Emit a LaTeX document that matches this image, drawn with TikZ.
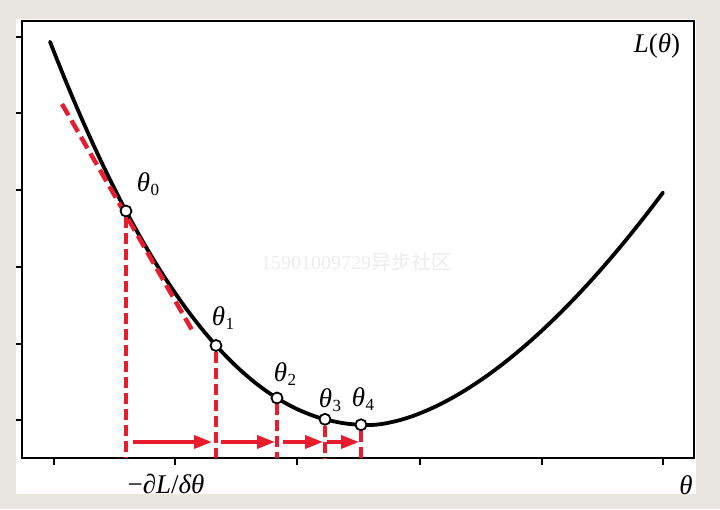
\documentclass[tikz,border=0pt]{standalone}
\usepackage{fontspec}
\setmainfont{Liberation Serif}
\newfontfamily\cjkfont{Noto Sans CJK SC}
\usetikzlibrary{arrows.meta}
\definecolor{bggrey}{RGB}{233,230,225}
\definecolor{gdred}{RGB}{233,28,45}
\newcommand{\thetalabel}[1]{\textit{θ}\kern0.5pt{\fontsize{17}{17}\selectfont\raisebox{-0.22em}{#1}}}

\begin{document}
\begin{tikzpicture}[x=1pt, y=-1pt, font=\fontsize{27}{29}\selectfont]
	\tikzstyle{every node} = [inner sep=0pt]
	\tikzstyle{point} = [circle, draw=black, fill=white, line width=1.8pt, minimum size=11pt]
	\tikzstyle{drop} = [gdred, line width=3.4pt, dash pattern=on 11pt off 5pt]
	\tikzstyle{stepline} = [gdred, line width=3.4pt, -{Triangle[length=18pt,width=13pt]}]
	% background and axes box
	\fill[bggrey] (0,0) rectangle (720,509);
	\fill[white] (16,19) rectangle (696,494);
	\draw[line width=2.4pt] (22,21) rectangle (694,458);
	\foreach \y in {37,113,190,267,344,420} \draw[line width=2pt] (16,\y)--(22,\y);
	\foreach \x in {54,175,297,420,542,663} \draw[line width=2pt] (\x,458)--(\x,465);
	% watermark
	\node[text=black!7, font=\fontsize{20}{22}\selectfont] (Mark) at (356,262) {15901009729{\cjkfont 异步社区}};
	% loss curve
	\draw[line width=3.8pt, line cap=round]
		plot[domain=50:369.9, samples=90] (\x, {425-214*((370-\x)/244)^2.15})
		-- plot[domain=370.1:663, samples=90] (\x, {425-75*((\x-370)/150)^1.69});
	% tangent at theta0
	\coordinate (TanA) at (62,104);
	\coordinate (TanB) at (192,330);
	\draw[gdred, line width=4.4pt, dash pattern=on 13pt off 6pt] (TanA)--(TanB);
	% descent steps
	\node[point] (Theta0) at (126,211) {};
	\node[point] (Theta1) at (216,345.5) {};
	\node[point] (Theta2) at (277,398) {};
	\node[point] (Theta3) at (325,419.3) {};
	\node[point] (Theta4) at (361,424.8) {};
	\foreach \i in {0,...,4} {
		\coordinate (Foot\i) at (Theta\i |- 0,458);
		\coordinate (Step\i) at (Theta\i |- 0,442);
		\draw[drop] (Theta\i)--(Foot\i);
	}
	\draw[stepline, shorten <=7pt, shorten >=4pt] (Step0)--(Step1);
	\draw[stepline, shorten <=5pt, shorten >=2pt] (Step1)--(Step2);
	\draw[stepline, shorten <=6pt, shorten >=2pt] (Step2)--(Step3);
	\draw[stepline, shorten <=2pt, shorten >=2pt] (Step3)--(Step4);
	% labels
	\node (Lab0) at (148,184) {\thetalabel{0}};
	\node (Lab1) at (223,318) {\thetalabel{1}};
	\node (Lab2) at (285,374) {\thetalabel{2}};
	\node (Lab3) at (330,400) {\thetalabel{3}};
	\node (Lab4) at (363,399) {\thetalabel{4}};
	\node (Loss) at (657,46) {\textit{L}(\textit{θ})};
	\node (Param) at (686,485) {\textit{θ}};
	\node (Grad) at (166,484) {−∂\textit{L}/\textit{δθ}};
\end{tikzpicture}
\end{document}
